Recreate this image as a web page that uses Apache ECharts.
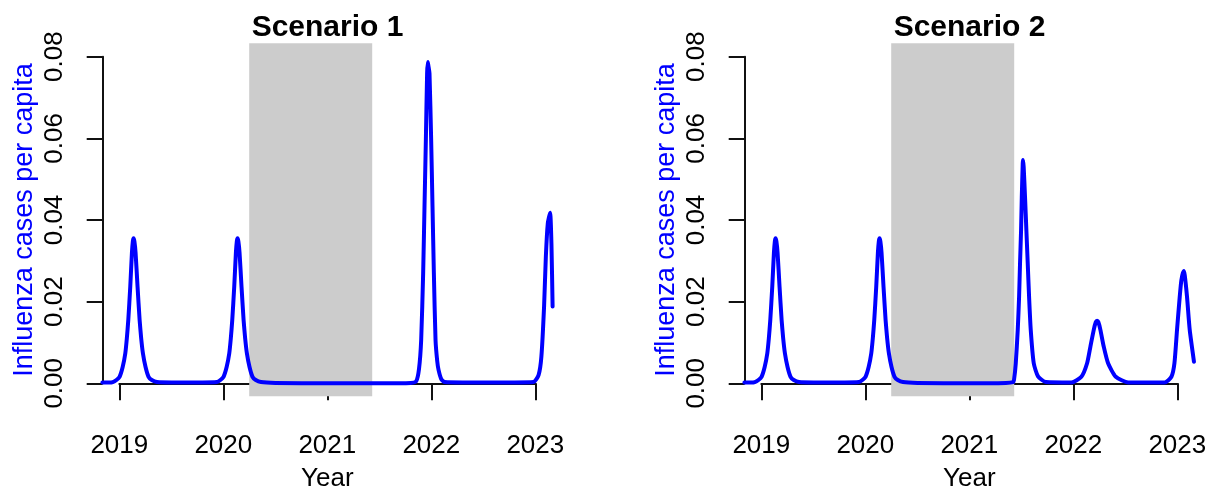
<!DOCTYPE html>
<html>
<head>
<meta charset="utf-8">
<script src="https://cdn.jsdelivr.net/npm/echarts@6/dist/echarts.min.js"></script>
<style>
  html, body { margin: 0; padding: 0; background: #fff; }
  #chart { width: 1209px; height: 487px; }
</style>
</head>
<body>
<div id="chart"></div>
<script>
// values
let yearTicks = [2019, 2020, 2021, 2022, 2023];
let caseTicks = [0, 0.02, 0.04, 0.06, 0.08];
let shadedPeriod = [2020.247, 2021.43];
let titles = ['Scenario 1', 'Scenario 2'];

let s1Years = [2018.835, 2018.90, 2018.935, 2018.97, 2019.000, 2019.030, 2019.055, 2019.070, 2019.084, 2019.103,
  2019.119, 2019.128, 2019.135, 2019.143, 2019.154, 2019.173, 2019.193, 2019.208, 2019.225, 2019.250,
  2019.279, 2019.31, 2019.36, 2019.50, 2019.80, 2019.935, 2019.97, 2020.000, 2020.030, 2020.055,
  2020.070, 2020.084, 2020.103, 2020.119, 2020.128, 2020.135, 2020.143, 2020.154, 2020.173, 2020.193,
  2020.208, 2020.225, 2020.250, 2020.279, 2020.31, 2020.36, 2020.50, 2021.00, 2021.50, 2021.80,
  2021.853, 2021.880, 2021.901, 2021.920, 2021.933, 2021.946, 2021.958, 2021.965, 2021.972, 2021.981,
  2021.997, 2022.010, 2022.023, 2022.039, 2022.055, 2022.068, 2022.095, 2022.128, 2022.30, 2022.80,
  2022.981, 2023.030, 2023.057, 2023.083, 2023.100, 2023.119, 2023.141, 2023.154, 2023.165];
let s1Cases = [0.0002, 0.0002, 0.0003, 0.0008, 0.0016, 0.0040, 0.0073, 0.0110, 0.0155, 0.0237,
  0.0320, 0.0348, 0.0355, 0.0347, 0.0320, 0.0237, 0.0155, 0.0110, 0.0073, 0.0040,
  0.0016, 0.0008, 0.0003, 0.0002, 0.0002, 0.0003, 0.0008, 0.0016, 0.0040, 0.0073,
  0.0110, 0.0155, 0.0237, 0.0320, 0.0348, 0.0355, 0.0347, 0.0320, 0.0237, 0.0155,
  0.0110, 0.0073, 0.0040, 0.0016, 0.0008, 0.0003, 0.0001, 0.0000, 0.0000, 0.0001,
  0.0005, 0.0035, 0.0106, 0.0270, 0.0433, 0.0596, 0.0759, 0.0787, 0.0775, 0.0759,
  0.0596, 0.0433, 0.0270, 0.0106, 0.0055, 0.0033, 0.0010, 0.0003, 0.0002, 0.0002,
  0.0003, 0.0020, 0.0065, 0.0188, 0.0310, 0.0392, 0.0418, 0.0340, 0.0188];

let s2Years = [2018.835, 2018.90, 2018.935, 2018.97, 2019.000, 2019.030, 2019.055, 2019.070, 2019.084, 2019.103,
  2019.119, 2019.128, 2019.135, 2019.143, 2019.154, 2019.173, 2019.193, 2019.208, 2019.225, 2019.250,
  2019.279, 2019.31, 2019.36, 2019.50, 2019.80, 2019.935, 2019.97, 2020.000, 2020.030, 2020.055,
  2020.070, 2020.084, 2020.103, 2020.119, 2020.128, 2020.135, 2020.143, 2020.154, 2020.173, 2020.193,
  2020.208, 2020.225, 2020.250, 2020.279, 2020.31, 2020.36, 2020.50, 2021.00, 2021.35, 2021.419,
  2021.428, 2021.445, 2021.464, 2021.477, 2021.486, 2021.496, 2021.503, 2021.512, 2021.515, 2021.521,
  2021.534, 2021.547, 2021.560, 2021.573, 2021.589, 2021.618, 2021.659, 2021.735, 2021.98, 2022.076,
  2022.131, 2022.163, 2022.195, 2022.215, 2022.227, 2022.239, 2022.259, 2022.291, 2022.333, 2022.407,
  2022.527, 2022.877, 2022.942, 2022.971, 2022.996, 2023.022, 2023.038, 2023.060, 2023.070, 2023.092,
  2023.118, 2023.159];
let s2Cases = [0.0002, 0.0002, 0.0003, 0.0008, 0.0016, 0.0040, 0.0073, 0.0110, 0.0155, 0.0237,
  0.0320, 0.0348, 0.0355, 0.0347, 0.0320, 0.0237, 0.0155, 0.0110, 0.0073, 0.0040,
  0.0016, 0.0008, 0.0003, 0.0002, 0.0002, 0.0003, 0.0008, 0.0016, 0.0040, 0.0073,
  0.0110, 0.0155, 0.0237, 0.0320, 0.0348, 0.0355, 0.0347, 0.0320, 0.0237, 0.0155,
  0.0110, 0.0073, 0.0040, 0.0016, 0.0008, 0.0003, 0.0001, 0.0000, 0.0001, 0.0003,
  0.0008, 0.0049, 0.0131, 0.0212, 0.0294, 0.0375, 0.0457, 0.0539, 0.0547, 0.0530,
  0.0457, 0.0375, 0.0294, 0.0212, 0.0131, 0.0049, 0.0017, 0.0003, 0.0002, 0.0016,
  0.0049, 0.0090, 0.0131, 0.0150, 0.0153, 0.0150, 0.0131, 0.0090, 0.0049, 0.0016,
  0.0002, 0.0002, 0.0016, 0.0049, 0.0131, 0.0212, 0.0253, 0.0275, 0.0265, 0.0212,
  0.0131, 0.0053];

let font = 'Liberation Sans, Arial, sans-serif';
let ink = '#111';

let grids = [], xAxes = [], yAxes = [], series = [], texts = [];

function addPanel(i, years, cases, dx) {
  let dataGrid = 2 * i, axisGrid = 2 * i + 1;
  // plot region (where the line and the shading live)
  grids.push({ left: 102.4 + dx, top: 43.3, width: 450.2, height: 353, outerBoundsMode: 'none' });
  // box spanned by the ticks, used only to draw the R-style axes
  grids.push({ left: 119.3 + dx, top: 56.7, width: 416, height: 326.6, outerBoundsMode: 'none' });

  xAxes.push({ type: 'value', gridIndex: dataGrid, min: 2018.835, max: 2023.165, show: false });
  yAxes.push({ type: 'value', gridIndex: dataGrid, min: -0.003184, max: 0.083282, show: false });

  xAxes.push({
    type: 'value', gridIndex: axisGrid, position: 'bottom', offset: 13,
    min: yearTicks[0], max: yearTicks[yearTicks.length - 1], interval: 1,
    axisLine: { show: true, lineStyle: { color: ink, width: 2 } },
    axisTick: { show: true, length: 17, lineStyle: { color: ink, width: 2 } },
    axisLabel: { margin: 37, fontSize: 26, color: '#000', fontFamily: font, formatter: v => String(v) },
    splitLine: { show: false },
    name: 'Year', nameLocation: 'middle', nameGap: 70,
    nameTextStyle: { fontSize: 26, color: '#000', fontFamily: font }
  });
  yAxes.push({
    type: 'value', gridIndex: axisGrid, position: 'left', offset: 16.6,
    min: caseTicks[0], max: caseTicks[caseTicks.length - 1], interval: 0.02,
    axisLine: { show: true, lineStyle: { color: ink, width: 2 } },
    axisTick: { show: true, length: 16, lineStyle: { color: ink, width: 2 } },
    axisLabel: { rotate: 90, margin: 35, fontSize: 26, color: '#000', fontFamily: font, formatter: v => v.toFixed(2) },
    splitLine: { show: false },
    name: 'Influenza cases per capita', nameLocation: 'middle', nameGap: 65, nameRotate: 90,
    nameTextStyle: { fontSize: 27, color: '#0000FF', fontFamily: font }
  });

  series.push({
    type: 'line', xAxisIndex: dataGrid, yAxisIndex: dataGrid,
    data: years.map((y, k) => [y, cases[k]]),
    showSymbol: false, smooth: 0.2,
    lineStyle: { color: '#0000FF', width: 4, join: 'round', cap: 'round' },
    silent: true, z: 3,
    markArea: {
      silent: true,
      itemStyle: { color: '#CCCCCC' },
      data: [[{ xAxis: shadedPeriod[0] }, { xAxis: shadedPeriod[1] }]]
    }
  });

  texts.push({
    type: 'text', x: 327.5 + dx, y: 28,
    style: { text: titles[i], fill: '#000', align: 'center', verticalAlign: 'middle',
      font: 'bold 30px ' + font }
  });
}

addPanel(0, s1Years, s1Cases, 0);
addPanel(1, s2Years, s2Cases, 642);

let myChart = echarts.init(document.getElementById('chart'), null, { renderer: 'canvas' });
myChart.setOption({
  animation: false,
  grid: grids,
  xAxis: xAxes,
  yAxis: yAxes,
  series: series,
  graphic: texts
});
</script>
</body>
</html>
